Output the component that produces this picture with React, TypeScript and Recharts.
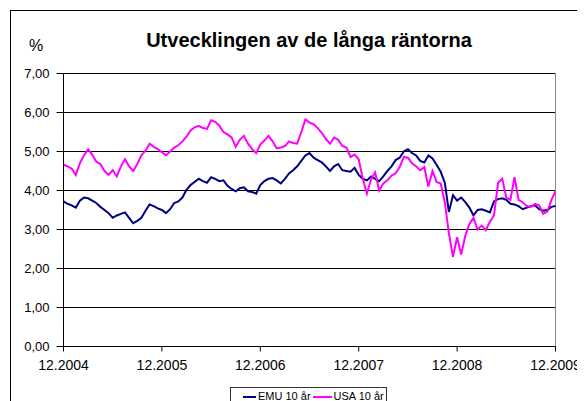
import { LineChart, Line, XAxis, YAxis, CartesianGrid, ReferenceLine } from "recharts";

// half-monthly readings, 12.2004 -> 12.2009
const emu = [
  3.72, 3.66, 3.62, 3.56, 3.74, 3.82, 3.8, 3.74, 3.68, 3.58,
  3.5, 3.42, 3.3, 3.36, 3.4, 3.44, 3.3, 3.16, 3.22, 3.3,
  3.48, 3.64, 3.6, 3.54, 3.5, 3.42, 3.52, 3.68, 3.72, 3.82,
  4.02, 4.14, 4.22, 4.3, 4.24, 4.2, 4.34, 4.3, 4.24, 4.26,
  4.12, 4.04, 3.98, 4.06, 4.08, 3.98, 3.96, 3.92, 4.14, 4.24,
  4.3, 4.32, 4.26, 4.18, 4.3, 4.44, 4.52, 4.62, 4.76, 4.9,
  4.96, 4.84, 4.78, 4.72, 4.62, 4.5, 4.62, 4.68, 4.52, 4.5,
  4.48, 4.58, 4.4, 4.3, 4.26, 4.36, 4.3, 4.24, 4.36, 4.5,
  4.62, 4.78, 4.84, 5.0, 5.06, 4.96, 4.9, 4.76, 4.72, 4.9,
  4.82, 4.66, 4.48, 4.2, 3.45, 3.88, 3.74, 3.82, 3.7, 3.56,
  3.36, 3.5, 3.52, 3.48, 3.44, 3.72, 3.78, 3.8, 3.76, 3.66,
  3.64, 3.6, 3.52, 3.56, 3.6, 3.62, 3.52, 3.48, 3.5, 3.58,
  3.6,
];

const usa = [
  4.66, 4.62, 4.56, 4.4, 4.7, 4.9, 5.06, 4.92, 4.74, 4.68,
  4.5, 4.4, 4.52, 4.36, 4.62, 4.8, 4.62, 4.5, 4.68, 4.9,
  5.02, 5.2, 5.12, 5.06, 4.98, 4.9, 5.0, 5.1, 5.16, 5.26,
  5.38, 5.54, 5.62, 5.66, 5.6, 5.58, 5.8, 5.76, 5.66, 5.5,
  5.44, 5.36, 5.12, 5.3, 5.4, 5.2, 5.06, 4.96, 5.18, 5.28,
  5.4, 5.26, 5.08, 5.1, 5.14, 5.26, 5.22, 5.2, 5.5, 5.82,
  5.74, 5.7, 5.6, 5.48, 5.32, 5.2, 5.36, 5.3, 5.14, 5.1,
  4.86, 4.92, 4.8, 4.3, 3.92, 4.28, 4.46, 4.0, 4.18, 4.26,
  4.38, 4.44, 4.6, 4.86, 4.84, 4.7, 4.62, 4.52, 4.6, 4.1,
  4.5, 4.22, 4.18, 3.7, 2.9, 2.3, 2.8, 2.36, 2.84, 3.14,
  3.3, 3.0, 3.1, 2.98, 3.2, 3.36, 4.2, 4.3, 3.82, 3.76,
  4.34, 3.76, 3.7, 3.6, 3.58, 3.66, 3.62, 3.4, 3.46, 3.76,
  3.98,
];

const tickLabels = ["12.2004", "12.2005", "12.2006", "12.2007", "12.2008", "12.2009"];
const yTicks = [0, 1, 2, 3, 4, 5, 6, 7];

const data = emu.map((v, i) => ({ t: i / 24, emu: v, usa: usa[i] }));

const FONT = "'Liberation Sans', Arial, sans-serif";

const App = () => {
  return (
    <div style={{ position: "relative", width: 577, height: 393, overflow: "hidden", fontFamily: FONT, background: "#fff" }}>
      <div
        style={{
          position: "absolute",
          left: 2,
          top: 2,
          width: 620,
          height: 440,
          border: "1px solid #000",
        }}
      />
      <div
        style={{
          position: "absolute",
          left: 0,
          width: 602,
          top: 21,
          textAlign: "center",
          fontSize: 20,
          fontWeight: "bold",
          color: "#000",
        }}
      >
        Utvecklingen av de långa räntorna
      </div>
      <div style={{ position: "absolute", left: 21, top: 29, fontSize: 16, color: "#000" }}>%</div>

      <div style={{ position: "absolute", top: 0, left: 0 }}>
        <LineChart width={577} height={393} data={data} margin={{ top: 65.5, right: 29.5, left: 5.5, bottom: 24.5 }}>
          <CartesianGrid vertical={false} stroke="#000" strokeWidth={1} />
          <XAxis
            dataKey="t"
            type="number"
            domain={[0, 5]}
            ticks={[0, 1, 2, 3, 4, 5]}
            tickFormatter={(v: number) => tickLabels[v]}
            height={30}
            tickSize={5}
            tickMargin={9}
            stroke="#000"
            tick={{ fill: "#000", fontSize: 14, fontFamily: FONT }}
          />
          <YAxis
            domain={[0, 7]}
            ticks={yTicks}
            tickFormatter={(v: number) => v.toFixed(2).replace(".", ",")}
            width={50}
            tickSize={7}
            tickMargin={7}
            stroke="#000"
            tick={{ fill: "#000", fontSize: 13, fontFamily: FONT }}
          />
          <ReferenceLine x={5} stroke="#888" />
          <Line
            type="linear"
            dataKey="emu"
            stroke="#000080"
            strokeWidth={2}
            dot={false}
            isAnimationActive={false}
          />
          <Line
            type="linear"
            dataKey="usa"
            stroke="#ff00ff"
            strokeWidth={2}
            dot={false}
            isAnimationActive={false}
          />
        </LineChart>
      </div>

      <div
        style={{
          position: "absolute",
          left: 222,
          top: 379,
          width: 157,
          height: 30,
          border: "1px solid #333",
          display: "flex",
          alignItems: "flex-start",
          paddingTop: 2,
          paddingLeft: 12,
          boxSizing: "border-box",
          fontSize: 11,
          color: "#000",
          whiteSpace: "nowrap",
        }}
      >
        <span style={{ display: "inline-block", width: 13, height: 2, background: "#000080", marginTop: 6, marginRight: 2 }} />
        <span>EMU 10 år</span>
        <span style={{ display: "inline-block", width: 19, height: 2, background: "#ff00ff", marginTop: 6, marginLeft: 2, marginRight: 2 }} />
        <span>USA 10 år</span>
      </div>
    </div>
  );
};

export default App;
